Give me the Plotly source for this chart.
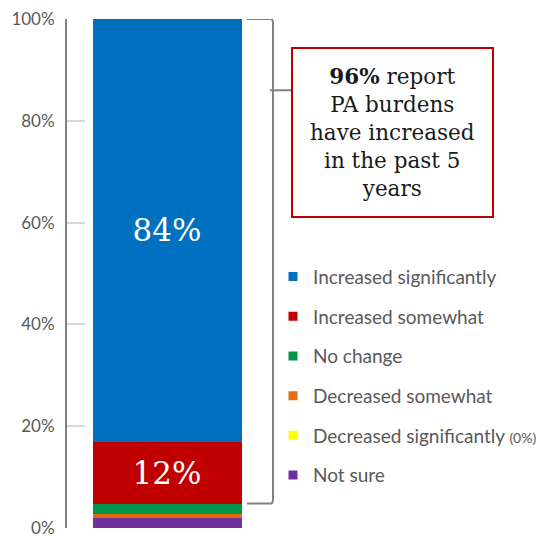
import plotly.graph_objects as go

categories = ["Increased significantly", "Increased somewhat", "No change",
              "Decreased somewhat", "Decreased significantly", "Not sure"]
values = [83.1, 12.1, 2.0, 0.9, 0.0, 1.9]
bar_labels = ["84%", "12%", "", "", "", ""]
legend_suffix = ["", "", "", "", " <span style='font-size:14px'>(0%)</span>", ""]
colors = ["#0070C0", "#C00000", "#00934A", "#E46C0A", "#FFFF00", "#7030A0"]
x_cat = ["All"]
y_ticks = [0, 20, 40, 60, 80, 100]
y_tick_text = ["0%", "20%", "40%", "60%", "80%", "100%"]
callout_lines = ["<b>96%</b> report", "PA burdens", "have increased", "in the past 5", "years"]

fig = go.Figure()
# stack from bottom: add in reverse legend order
for i in reversed(range(len(categories))):
    fig.add_trace(go.Bar(
        x=x_cat, y=[values[i]],
        name=categories[i],
        marker=dict(color=colors[i], line=dict(width=0)),
        text=[bar_labels[i]], textposition="inside", insidetextanchor="middle",
        textangle=0,
        textfont=dict(family="DejaVu Serif", size=31, color="white"),
        width=0.745, showlegend=False,
        hoverinfo="skip",
    ))
# legend entries with small square swatches
for i in range(len(categories)):
    fig.add_trace(go.Scatter(
        x=[None], y=[None], mode="markers",
        name=categories[i] + legend_suffix[i],
        marker=dict(symbol="square", size=9, color=colors[i]),
        legendgroup=categories[i], legendrank=i + 1,
    ))

# Bracket around the "increased" segments
bottom_other = sum(values[2:])
top = sum(values)
x0, x1 = 0.90, 1.03
r = 0.012
ry = 0.9
path = (f"M {x0},{top} L {x1 - r},{top} Q {x1},{top} {x1},{top - ry} "
        f"L {x1},{bottom_other + ry} Q {x1},{bottom_other} {x1 - r},{bottom_other} "
        f"L {x0},{bottom_other}")
fig.add_shape(type="path", path=path, xref="paper", yref="y",
              line=dict(color="#808080", width=2))
conn_y = 86.0
fig.add_shape(type="line", xref="paper", yref="y", x0=1.015, x1=1.125,
              y0=conn_y, y1=conn_y, line=dict(color="#808080", width=2))
# Callout box
fig.add_shape(type="rect", xref="paper", yref="paper",
              x0=1.125, x1=2.13, y0=0.611, y1=0.943,
              line=dict(color="#C00000", width=2), fillcolor="white")
fig.add_annotation(xref="paper", yref="paper", x=1.6275, y=0.777,
                   text="<br>".join(callout_lines), showarrow=False,
                   xanchor="center", yanchor="middle", align="center",
                   font=dict(family="DejaVu Serif", size=21.5, color="#1a1a1a"))

fig.update_layout(
    width=537, height=531,
    margin=dict(l=59, r=278, t=11, b=11, autoexpand=False),
    barmode="stack",
    plot_bgcolor="white", paper_bgcolor="white",
    showlegend=True,
    legend=dict(x=1.03, y=0.531, xanchor="left", yanchor="top",
                traceorder="grouped", tracegroupgap=12,
                font=dict(family="Lato", size=19, color="#595959"),
                bgcolor="rgba(0,0,0,0)"),
    xaxis=dict(range=[-0.5, 0.5], showticklabels=False, showline=False,
               showgrid=False, zeroline=False, fixedrange=True, automargin=False),
    yaxis=dict(range=[0, 100], tickvals=y_ticks, ticktext=y_tick_text,
               showgrid=False, zeroline=False, showline=True,
               linecolor="#808080", linewidth=2,
               ticks="inside", ticklen=18, tickwidth=2, tickcolor="#D9D9D9",
               tickfont=dict(family="Lato", size=17, color="#595959"),
               ticklabelstandoff=7, ticklabeloverflow="allow",
               automargin=False),
)

fig.write_html("out.html")
